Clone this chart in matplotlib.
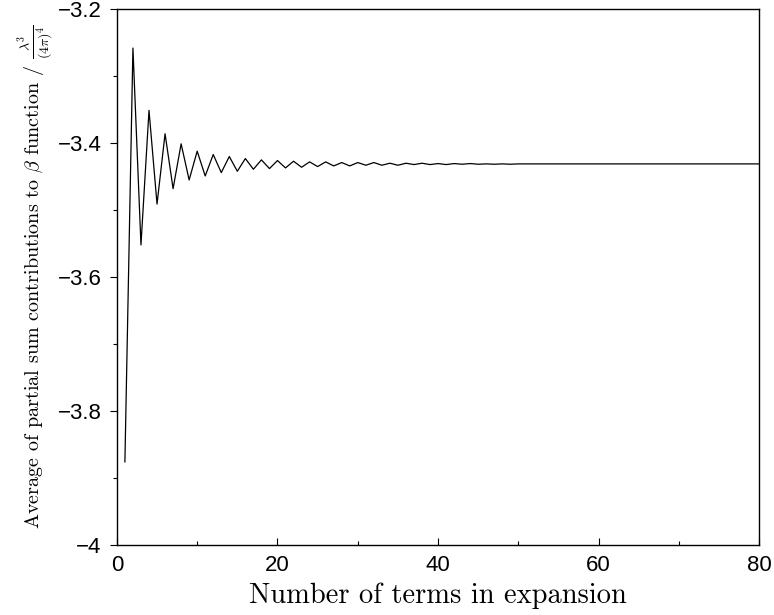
import matplotlib
matplotlib.use('Agg')
import matplotlib.pyplot as plt
from matplotlib.ticker import MultipleLocator

plt.rcParams['mathtext.fontset'] = 'cm'
plt.rcParams['axes.unicode_minus'] = True

# average partial sum vs number of terms
n_terms = list(range(1, 81))
avg_sum = [
    -3.876, -3.258, -3.552, -3.351, -3.491, -3.386, -3.468, -3.401, -3.455, -3.412,
    -3.449, -3.417, -3.444, -3.420, -3.442, -3.423, -3.439, -3.425, -3.438, -3.426,
    -3.437, -3.427, -3.436, -3.428, -3.435, -3.428, -3.434, -3.429, -3.434, -3.429,
    -3.433, -3.429, -3.433, -3.430, -3.433, -3.430, -3.432, -3.430, -3.432, -3.4305,
    -3.432, -3.4305, -3.4315, -3.4305, -3.4315, -3.431, -3.4315, -3.431, -3.4315, -3.431,
    -3.431, -3.431, -3.431, -3.431, -3.431, -3.431, -3.431, -3.431, -3.431, -3.431,
    -3.431, -3.431, -3.431, -3.431, -3.431, -3.431, -3.431, -3.431, -3.431, -3.431,
    -3.431, -3.431, -3.431, -3.431, -3.431, -3.431, -3.431, -3.431, -3.431, -3.431,
]

x_ticks = [0, 20, 40, 60, 80]
x_labels = ['0', '20', '40', '60', '80']
y_ticks = [-4.0, -3.8, -3.6, -3.4, -3.2]
y_labels = ['\u22124', '\u22123.8', '\u22123.6', '\u22123.4', '\u22123.2']

fig = plt.figure(figsize=(7.74, 6.15), dpi=100)
ax = fig.add_axes([0.151, 0.114, 0.830, 0.871])

ax.plot(n_terms, avg_sum, color='black', linewidth=0.9)

ax.set_xlim(0, 80)
ax.set_ylim(-4.0, -3.2)
ax.set_xticks(x_ticks)
ax.set_xticklabels(x_labels, family='Liberation Sans', fontsize=16)
ax.set_yticks(y_ticks)
ax.set_yticklabels(y_labels, family='Liberation Sans', fontsize=16)
ax.xaxis.set_minor_locator(MultipleLocator(10))
ax.yaxis.set_minor_locator(MultipleLocator(0.1))

ax.tick_params(axis='x', which='major', direction='in', length=5, width=0.8, pad=7)
ax.tick_params(axis='x', which='minor', direction='in', length=3, width=0.8)
ax.tick_params(axis='y', which='major', direction='out', length=5, width=0.8, pad=6)
ax.tick_params(axis='y', which='minor', direction='out', length=3, width=0.8)

for s in ax.spines.values():
    s.set_linewidth(1.0)

ax.set_xlabel('Number of terms in expansion', family='cmr10', fontsize=20.5, labelpad=5)
ax.set_ylabel(r'Average of partial sum contributions to $\beta$ function / $\frac{\lambda^3}{(4\pi)^4}$',
              family='cmr10', fontsize=14.5, labelpad=1)

fig.savefig('out.png', dpi=100)
